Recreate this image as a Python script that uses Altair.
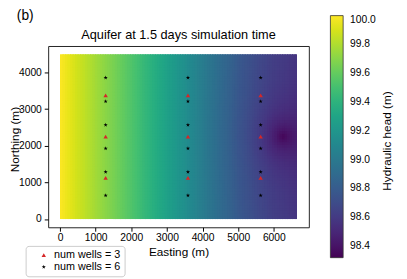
import altair as alt
import numpy as np
import pandas as pd

# ---- data ----
# head profile along easting (away from the pumping well)
easting_profile = [0, 500, 1000, 1500, 2000, 2500, 3000, 3500, 4000, 4500, 5000, 5500, 6000, 6650]
head_profile = [100.0, 99.88, 99.77, 99.66, 99.54, 99.41, 99.28, 99.15, 99.02, 98.90, 98.79, 98.70, 98.63, 98.58]
# drawdown cone around the pumping well
drawdown_radius = [0, 100, 200, 400, 700, 1000, 1500, 2500]
drawdown_value = [0.27, 0.23, 0.19, 0.13, 0.075, 0.045, 0.018, 0.0]
pump_x, pump_y = 6250, 2250
extent_x, extent_y = 6650, 4500

well_columns = [1280, 3590, 5630]
wells3_northing = [1125, 2250, 3375]
wells6_northing = [643, 1286, 1929, 2571, 3214, 3857]
legend_labels = ["num wells = 3", "num wells = 6"]

x_ticks = [0, 1000, 2000, 3000, 4000, 5000, 6000]
y_ticks = [0, 1000, 2000, 3000, 4000]
cbar_ticks = [98.4, 98.6, 98.8, 99.0, 99.2, 99.4, 99.6, 99.8, 100.0]
head_domain = [98.32, 100.0]

plot_title = "Aquifer at 1.5 days simulation time"
panel_label = "(b)"
cbar_label = "Hydraulic head (m)"

FONT = "Liberation Sans"

# ---- build the head grid ----
nx, ny = 95, 60
dx, dy = extent_x / nx, extent_y / ny
rows = []
for i in range(nx):
    for j in range(ny):
        x0, y0 = i * dx, j * dy
        cx, cy = x0 + dx / 2, y0 + dy / 2
        base = np.interp(cx, easting_profile, head_profile)
        r = np.hypot(cx - pump_x, cy - pump_y)
        dd = np.interp(r, drawdown_radius, drawdown_value)
        rows.append({
            "x": x0, "x2": min(x0 + dx * 1.5, extent_x),
            "y": y0, "y2": min(y0 + dy * 1.5, extent_y),
            "head": base - dd,
        })
grid = pd.DataFrame(rows)

wrows = []
for wx in well_columns:
    for wy in wells3_northing:
        wrows.append({"x": wx, "y": wy, "label": legend_labels[0], "o": 0})
for wx in well_columns:
    for wy in wells6_northing:
        wrows.append({"x": wx, "y": wy, "label": legend_labels[1], "o": 1})
wells = pd.DataFrame(wrows)

star = ("M0,-1L0.2245,-0.309L0.951,-0.309L0.363,0.118L0.588,0.809L0,0.382"
        "L-0.588,0.809L-0.363,0.118L-0.951,-0.309L-0.2245,-0.309Z")

xscale = alt.Scale(domain=[-332.5, 6982.5], nice=False, zero=False)
yscale = alt.Scale(domain=[-225, 4725], nice=False, zero=False)

heat = alt.Chart(grid).mark_rect().encode(
    x=alt.X("x:Q", scale=xscale, axis=alt.Axis(
        values=x_ticks, format="d", title="Easting (m)", grid=False, domain=False,
        tickSize=4, tickColor="black", labelPadding=2, labelFontSize=10.5,
        labelFont=FONT, labelColor="black", titleFont=FONT, titleFontSize=12,
        titleFontWeight="normal", titleColor="black", titlePadding=3,
        labelFlush=False)),
    x2="x2:Q",
    y=alt.Y("y:Q", scale=yscale, axis=alt.Axis(
        values=y_ticks, format="d", title="Northing (m)", grid=False, domain=False,
        tickSize=4, tickColor="black", labelPadding=3, labelFontSize=10.5,
        labelFont=FONT, labelColor="black", titleFont=FONT, titleFontSize=12,
        titleFontWeight="normal", titleColor="black", titleX=-34.5, titleY=95,
        titleAngle=270, titleAlign="center", titleBaseline="middle",
        labelFlush=False)),
    y2="y2:Q",
    fill=alt.Fill("head:Q", scale=alt.Scale(scheme="viridis", domain=head_domain, clamp=True),
                  legend=alt.Legend(
                      title=None, orient="none", legendX=288, legendY=-31,
                      direction="vertical", gradientLength=247, gradientThickness=13,
                      values=cbar_ticks, format=".1f", labelFontSize=10.5, labelFont=FONT,
                      labelColor="black", labelOffset=7, labelBaseline="middle",
                      labelOverlap=False, gradientStrokeColor="#333333",
                      gradientStrokeWidth=0.8, padding=0)),
)

sym_legend = alt.Legend(
    title=None, orient="none", legendX=-23, legendY=204, padding=4,
    strokeColor="#cccccc", fillColor="white", cornerRadius=3,
    labelFontSize=11, labelFont=FONT, labelColor="black", labelOffset=5,
    rowPadding=0, symbolSize=20, symbolStrokeWidth=0, symbolOffset=9)

points = alt.Chart(wells).mark_point(filled=True, size=20, opacity=1).encode(
    x=alt.X("x:Q", scale=xscale),
    y=alt.Y("y:Q", scale=yscale),
    color=alt.Color("label:N", scale=alt.Scale(domain=legend_labels, range=["#d62728", "black"]),
                    legend=sym_legend),
    shape=alt.Shape("label:N", scale=alt.Scale(domain=legend_labels, range=["triangle-up", star]),
                    legend=sym_legend),
    order=alt.Order("o:Q"),
)

title_mark = alt.Chart(pd.DataFrame({"t": [plot_title]})).mark_text(
    align="center", baseline="alphabetic", font=FONT, fontSize=13, color="black"
).encode(x=alt.value(133), y=alt.value(-7), text="t:N")

panel = alt.Chart(pd.DataFrame({"t": [panel_label]})).mark_text(
    align="left", baseline="alphabetic", font=FONT, fontSize=14, color="black"
).encode(x=alt.value(-32), y=alt.value(-27), text="t:N")

cbar_title = alt.Chart(pd.DataFrame({"t": [cbar_label]})).mark_text(
    align="center", baseline="middle", font=FONT, fontSize=12, color="black", angle=270
).encode(x=alt.value(346), y=alt.value(97), text="t:N")

chart = alt.layer(heat, points, title_mark, panel, cbar_title).properties(
    width=266, height=185,
    padding={"left": 41, "top": 36, "right": 92, "bottom": 50},
    autosize=alt.AutoSizeParams(type="none"),
).configure_view(stroke="#222222", strokeWidth=1)

chart.save("out.html", embed_options={"renderer": "svg", "actions": False})
